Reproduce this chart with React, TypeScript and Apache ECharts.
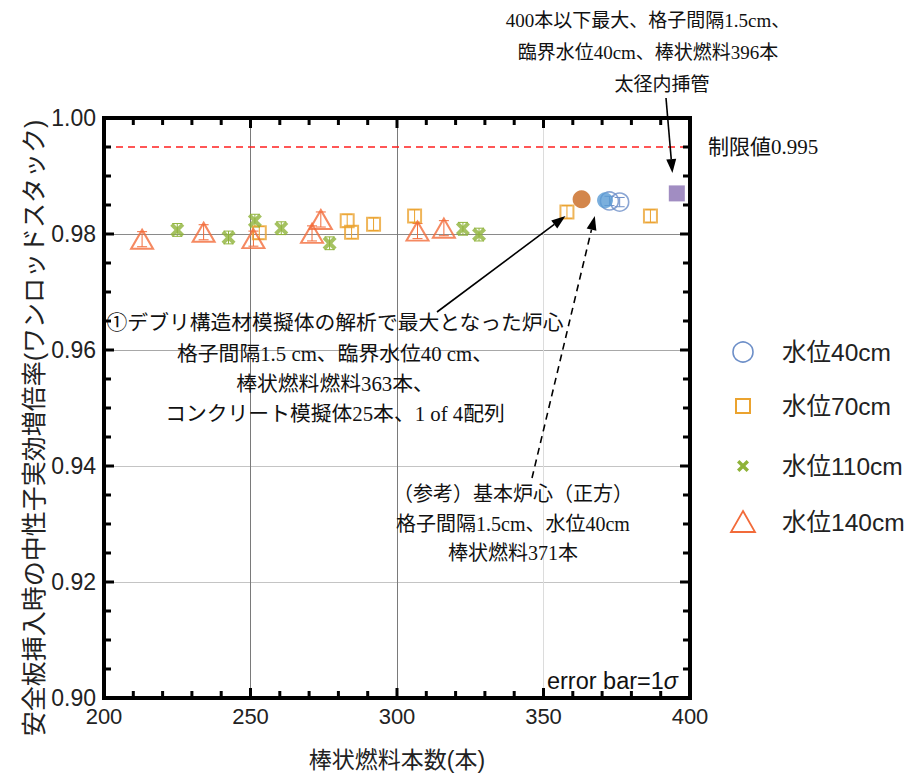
import React, { useEffect, useRef } from "react";
import * as echarts from "echarts";

// ---- data ----
const X_TICKS = [200, 250, 300, 350, 400];
const Y_TICKS = ["0.90", "0.92", "0.94", "0.96", "0.98", "1.00"];
const X_MINOR_SPLIT = 5;
const Y_MINOR_SPLIT = 4;
const LIMIT = 0.995;

const SERIES_NAMES = ["水位40cm", "水位70cm", "水位110cm", "水位140cm"];

const WL40: number[][] = [
  [372.5, 0.9857],
  [376, 0.9855],
];
const WL70: number[][] = [
  [253, 0.9802],
  [283, 0.9823],
  [284.5, 0.9803],
  [292, 0.9817],
  [306, 0.9831],
  [358, 0.9838],
  [386.5, 0.9831],
];
const WL110: number[][] = [
  [225, 0.9807],
  [242.5, 0.9794],
  [251.5, 0.9823],
  [260.5, 0.981],
  [277, 0.9784],
  [322.5, 0.9809],
  [328, 0.9799],
];
const WL140: number[][] = [
  [213, 0.9791],
  [234, 0.9803],
  [251, 0.9792],
  [271, 0.9801],
  [274, 0.9825],
  [307, 0.9805],
  [316, 0.981],
];
const DEBRIS_MAX: number[][] = [[363, 0.986]]; // ① 363本
const BASIC_CORE: number[][] = [[371, 0.9858]]; // 基本炉心 371本
const MAX_UNDER_400: number[][] = [[395.5, 0.987]]; // 396本
const SIGMA = [0.0008, 0.0011, 0.0011, 0.0013];

// ---- styles ----
const C40 = "#6d8fc8";
const C70 = "#eba32f";
const C110 = "#8fb339";
const C140 = "#f26b3a";
const SANS = "'Liberation Sans', 'Noto Sans CJK JP', sans-serif";
const SERIF = "'Liberation Serif', 'Noto Sans CJK JP', serif";
const CROSS =
  "path://M0,2 L2,0 L5,3 L8,0 L10,2 L7,5 L10,8 L8,10 L5,7 L2,10 L0,8 L3,5 Z";

function errSeries(data: number[][], color: string, sigma: number) {
  return {
    type: "custom",
    z: 1,
    silent: true,
    data,
    encode: { x: 0, y: 1 },
    renderItem: (params: any, api: any) => {
      const x = api.value(0);
      const y = api.value(1);
      const t = api.coord([x, y + sigma]);
      const b = api.coord([x, y - sigma]);
      const w = 5;
      return {
        type: "group",
        children: [
          { type: "line", shape: { x1: t[0], y1: t[1], x2: b[0], y2: b[1] }, style: { stroke: color, lineWidth: 1 } },
          { type: "line", shape: { x1: t[0] - w, y1: t[1], x2: t[0] + w, y2: t[1] }, style: { stroke: color, lineWidth: 1 } },
          { type: "line", shape: { x1: b[0] - w, y1: b[1], x2: b[0] + w, y2: b[1] }, style: { stroke: color, lineWidth: 1 } },
        ],
      };
    },
  };
}

function arrow(s: number[], t: number[], dashed: boolean) {
  const dx = t[0] - s[0];
  const dy = t[1] - s[1];
  const len = Math.sqrt(dx * dx + dy * dy);
  const ux = dx / len;
  const uy = dy / len;
  const L = 14;
  const W = 10;
  const bx = t[0] - ux * L;
  const by = t[1] - uy * L;
  const nx = -uy;
  const ny = ux;
  return [
    {
      type: "line",
      shape: { x1: s[0], y1: s[1], x2: bx, y2: by },
      style: { stroke: "#000", lineWidth: 1.6, lineDash: dashed ? [7, 5] : null },
      z: 50,
    },
    {
      type: "polygon",
      shape: {
        points: [
          [t[0], t[1]],
          [bx + (nx * W) / 2, by + (ny * W) / 2],
          [bx - (nx * W) / 2, by - (ny * W) / 2],
        ],
      },
      style: { fill: "#000" },
      z: 50,
    },
  ];
}

function txt(x: number, y: number, text: string, opts: any = {}) {
  return {
    type: "text",
    x,
    y,
    z: 60,
    style: {
      text,
      fontSize: 19,
      fontFamily: SERIF,
      fill: "#111",
      align: "center",
      verticalAlign: "middle",
      ...opts,
    },
  };
}

export default function App() {
  const ref = useRef<HTMLDivElement>(null);

  useEffect(() => {
    if (!ref.current) return;
    const chart = echarts.init(ref.current, null, { renderer: "svg" });
    const xMin = X_TICKS[0];
    const xMax = X_TICKS[X_TICKS.length - 1];
    const xInt = X_TICKS[1] - X_TICKS[0];
    const yVals = Y_TICKS.map(Number);
    const yMin = yVals[0];
    const yMax = yVals[yVals.length - 1];
    const yInt = +(yVals[1] - yVals[0]).toFixed(4);

    // tick positions along the frame (major + minor), from the tick arrays
    const frameTicks: number[][] = [];
    const xStep = xInt / X_MINOR_SPLIT;
    const nxs = Math.round((xMax - xMin) / xStep);
    for (let i = 1; i < nxs; i++) {
      frameTicks.push([xMin + i * xStep, yMin, 0, i % X_MINOR_SPLIT === 0 ? 1 : 0]);
    }
    const yStep = yInt / Y_MINOR_SPLIT;
    const nys = Math.round((yMax - yMin) / yStep);
    for (let i = 1; i < nys; i++) {
      frameTicks.push([xMin, yMin + i * yStep, 1, i % Y_MINOR_SPLIT === 0 ? 1 : 0]);
    }

    const axisCommon = {
      axisTick: { show: false },
      minorTick: { show: false },
      axisLine: { show: false },
    };
    const xBase = { type: "value", min: xMin, max: xMax, interval: xInt, ...axisCommon };
    const yBase = { type: "value", min: yMin, max: yMax, interval: yInt, ...axisCommon };

    chart.setOption({
      animation: false,
      backgroundColor: "#fff",
      grid: {
        left: 104,
        right: 221,
        top: 118,
        bottom: 73,
        show: false,
      },
      xAxis: [
        {
          ...xBase,
          position: "bottom",
          name: "棒状燃料本数(本)",
          nameLocation: "middle",
          nameGap: 50,
          nameTextStyle: { fontSize: 23, fontFamily: SANS, color: "#222" },
          axisLabel: { fontSize: 22, fontFamily: SANS, color: "#222", margin: 7 },
          splitLine: {
            show: true,
            lineStyle: { color: ["#888", "#7a7a7a", "#7a7a7a", "#dcdcdc", "#888"], width: 1 },
          },
        },
        {
          ...xBase,
          position: "top",
          axisLabel: { show: false },
          splitLine: { show: false },
        },
      ],
      yAxis: [
        {
          ...yBase,
          position: "left",
          axisLabel: {
            fontSize: 23,
            fontFamily: SANS,
            color: "#222",
            margin: 8,
            formatter: (v: number) => v.toFixed(2),
          },
          splitLine: {
            show: true,
            lineStyle: {
              color: ["#c0c0c0", "#c4c4c4", "#c4c4c4", "#a8a8a8", "#8a8a8a", "#c0c0c0"],
              width: 1,
            },
          },
        },
        {
          ...yBase,
          position: "right",
          axisLabel: { show: false },
          splitLine: { show: false },
        },
      ],
      series: [
        {
          name: "frame",
          type: "custom",
          z: 20,
          silent: true,
          clip: false,
          data: frameTicks,
          encode: { x: 0, y: 1 },
          renderItem: (params: any, api: any) => {
            const v0 = api.value(0);
            const v1 = api.value(1);
            const side = api.value(2);
            const major = api.value(3);
            const len = major ? 10 : 7;
            const tw = 3;
            const children: any[] = [];
            if (side === 0) {
              const b = api.coord([v0, yMin]);
              const t = api.coord([v0, yMax]);
              children.push({ type: "rect", shape: { x: b[0] - tw / 2, y: b[1] - len, width: tw, height: len }, style: { fill: "#000" } });
              children.push({ type: "rect", shape: { x: t[0] - tw / 2, y: t[1], width: tw, height: len }, style: { fill: "#000" } });
            } else {
              const l = api.coord([xMin, v1]);
              const r = api.coord([xMax, v1]);
              children.push({ type: "rect", shape: { x: l[0], y: l[1] - tw / 2, width: len, height: tw }, style: { fill: "#000" } });
              children.push({ type: "rect", shape: { x: r[0] - len, y: r[1] - tw / 2, width: len, height: tw }, style: { fill: "#000" } });
            }
            if (params.dataIndex === 0) {
              const tl = api.coord([xMin, yMax]);
              const br = api.coord([xMax, yMin]);
              children.push({
                type: "rect",
                shape: { x: tl[0], y: tl[1], width: br[0] - tl[0], height: br[1] - tl[1] },
                style: { fill: "none", stroke: "#000", lineWidth: 4 },
              });
            }
            return { type: "group", children };
          },
        },
        {
          name: "制限値",
          type: "line",
          z: 2,
          silent: true,
          data: [
            [xMin, LIMIT],
            [xMax, LIMIT],
          ],
          symbol: "none",
          lineStyle: { color: "#ff1f1f", type: [7, 5], width: 1.3 },
        },
        errSeries(WL40, C40, SIGMA[0]),
        errSeries(WL70, C70, SIGMA[1]),
        errSeries(WL110, C110, SIGMA[2]),
        errSeries(WL140, C140, SIGMA[3]),
        {
          name: SERIES_NAMES[0],
          type: "scatter",
          z: 3,
          data: WL40,
          symbol: "circle",
          symbolSize: 18,
          itemStyle: { color: "rgba(255,255,255,0)", borderColor: C40, borderWidth: 1.6 },
        },
        {
          name: SERIES_NAMES[1],
          type: "scatter",
          z: 3,
          data: WL70,
          symbol: "rect",
          symbolSize: 13,
          itemStyle: { color: "rgba(255,255,255,0)", borderColor: C70, borderWidth: 2 },
        },
        {
          name: SERIES_NAMES[2],
          type: "scatter",
          z: 3,
          data: WL110,
          symbol: CROSS,
          symbolSize: 14,
          itemStyle: { color: C110 },
        },
        {
          name: SERIES_NAMES[3],
          type: "scatter",
          z: 3,
          data: WL140,
          symbol: "triangle",
          symbolSize: [22, 19],
          itemStyle: { color: "rgba(255,255,255,0)", borderColor: C140, borderWidth: 2 },
        },
        {
          name: "デブリ構造材模擬体最大",
          type: "scatter",
          z: 4,
          data: DEBRIS_MAX,
          symbol: "circle",
          symbolSize: 18,
          itemStyle: { color: "#c8681e" },
        },
        {
          name: "基本炉心",
          type: "scatter",
          z: 4,
          data: BASIC_CORE,
          symbol: "circle",
          symbolSize: 16,
          itemStyle: { color: "#5a9bd4" },
        },
        {
          name: "400本以下最大",
          type: "scatter",
          z: 4,
          data: MAX_UNDER_400,
          symbol: "rect",
          symbolSize: 16,
          itemStyle: { color: "#8a70b3" },
        },
      ],
    });

    const px = (p: number[]) =>
      chart.convertToPixel({ xAxisIndex: 0, yAxisIndex: 0 }, p) as number[];

    const tip1 = px([357.5, 0.9831]);
    const tip2 = px([367.5, 0.9831]);
    const tip3 = px([394, 0.9905]);

    // legend (drawn)
    const LX = 743;
    const LY = [352, 406, 466, 522];
    const legendItems: any[] = [
      { type: "circle", shape: { cx: LX, cy: LY[0], r: 10 }, style: { fill: "none", stroke: C40, lineWidth: 1.6 } },
      { type: "rect", shape: { x: LX - 7, y: LY[1] - 7, width: 14, height: 14 }, style: { fill: "none", stroke: C70, lineWidth: 2 } },
      {
        type: "polygon",
        shape: {
          points: [
            [0, 2], [2, 0], [5, 3], [8, 0], [10, 2], [7, 5], [10, 8], [8, 10], [5, 7], [2, 10], [0, 8], [3, 5],
          ].map((p) => [LX - 6 + p[0] * 1.2, LY[2] - 6 + p[1] * 1.2]),
        },
        style: { fill: C110 },
      },
      {
        type: "polygon",
        shape: { points: [[LX, LY[3] - 11], [LX + 12, LY[3] + 10], [LX - 12, LY[3] + 10]] },
        style: { fill: "none", stroke: C140, lineWidth: 1.8 },
      },
      ...SERIES_NAMES.map((n, i) => ({
        type: "text",
        x: 782,
        y: LY[i],
        style: {
          text: n,
          fontSize: 24.5,
          fontFamily: SANS,
          fill: "#222",
          align: "left",
          verticalAlign: "middle",
        },
      })),
    ];

    chart.setOption({
      graphic: [
        ...arrow([437, 312], tip1, false),
        ...arrow([532, 478], tip2, true),
        ...arrow([666, 98], tip3, false),
        txt(648, 20, "400本以下最大、格子間隔1.5cm、"),
        txt(648, 52, "臨界水位40cm、棒状燃料396本"),
        txt(662, 84, "太径内挿管"),
        txt(708, 147, "制限値0.995", { align: "left", fontSize: 21 }),
        txt(335, 322, "①デブリ構造材模擬体の解析で最大となった炉心", { fontSize: 20.8 }),
        txt(335, 353, "格子間隔1.5 cm、臨界水位40 cm、", { fontSize: 20.8 }),
        txt(335, 383, "棒状燃料燃料363本、", { fontSize: 20.8 }),
        txt(335, 413, "コンクリート模擬体25本、1 of 4配列", { fontSize: 20.8 }),
        txt(513, 494, "（参考）基本炉心（正方）", { fontSize: 20 }),
        txt(513, 524, "格子間隔1.5cm、水位40cm", { fontSize: 20 }),
        txt(513, 553, "棒状燃料371本", { fontSize: 20 }),
        {
          type: "text",
          x: 34,
          y: 428,
          rotation: Math.PI / 2,
          z: 60,
          style: {
            text: "安全板挿入時の中性子実効増倍率(ワンロッドスタック)",
            fontSize: 25,
            fontFamily: SANS,
            fill: "#222",
            align: "center",
            verticalAlign: "middle",
          },
        },
        {
          type: "text",
          x: 678,
          y: 681,
          z: 60,
          style: {
            text: "error bar=1{s|σ}",
            fontSize: 23.5,
            fontFamily: SANS,
            fill: "#111",
            align: "right",
            verticalAlign: "middle",
            rich: { s: { fontSize: 23.5, fontStyle: "italic", fontFamily: SANS, fill: "#111" } },
          },
        },
        ...legendItems,
      ],
    });

    return () => chart.dispose();
  }, []);

  return (
    <div
      ref={ref}
      style={{ position: "fixed", left: 0, top: 0, width: 911, height: 776, background: "#fff" }}
    />
  );
}
